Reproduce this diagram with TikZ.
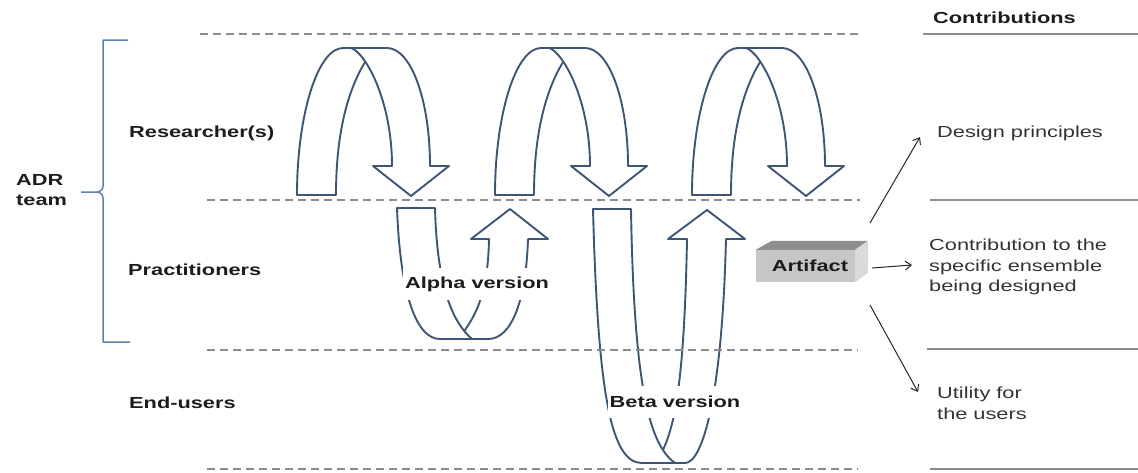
\documentclass[tikz,border=0pt]{standalone}
\usepackage{fontspec}
\setmainfont{Liberation Sans}[FakeStretch=1.36]
\usetikzlibrary{arrows.meta}
\definecolor{band}{HTML}{3F5574}
\definecolor{rule}{HTML}{8C8C8C}
\definecolor{bracket}{HTML}{5B82AD}
\definecolor{ink}{HTML}{1C1C1C}
\definecolor{soft}{HTML}{333333}
\definecolor{boxfront}{HTML}{C6C6C6}
\definecolor{boxtop}{HTML}{8E8E8E}
\definecolor{boxside}{HTML}{DADADA}

% one iteration loop in the researchers' lane: a rising band that bends over
% and comes down as an arrow; #1 is the left edge of the rising leg
\newcommand\loopover[1]{%
  \begin{scope}[xshift=#1]
    \path[bandline] (0,195) .. controls (0,114) and (21,48) .. (46,48)
      -- (60,48) -- (72,56) .. controls (52,85) and (39,130) .. (39,195) -- cycle;
    \path[bandline] (54,48) -- (90,48) .. controls (114,48) and (133,100) .. (133,166)
      -- (152,166) -- (114,196) -- (76,166) -- (95,166)
      .. controls (95,100) and (68,52) .. (54,48) -- cycle;
  \end{scope}}

\begin{document}
\begin{tikzpicture}[x=1pt,y=-1pt,
  bandline/.style={draw=band, line width=1.9pt, fill=white, line join=round},
  lane/.style={draw=rule, line width=1.6pt, dash pattern=on 8pt off 5pt},
  solidrule/.style={draw=rule, line width=1.6pt},
  role/.style={font=\fontsize{16}{20}\selectfont\bfseries, text=ink, anchor=west, align=left, inner sep=0pt},
  result/.style={font=\fontsize{16}{20.5}\selectfont, text=soft, anchor=west, align=left, inner sep=0pt},
  version/.style={font=\fontsize{16}{20}\selectfont\bfseries, text=ink, fill=white, inner sep=2pt, minimum height=32pt},
  link/.style={draw=black!85, line width=1pt, -{Straight Barb[length=6pt,width=9pt]}},
]
\useasboundingbox (0,0) rectangle (1138,472);

% iteration loops among the researchers
\loopover{297}
\loopover{495}
\loopover{692}

% alpha version: down to the practitioners and back up
\path[bandline] (510,209) -- (548,239) -- (528,239)
  .. controls (526,300) and (512,339) .. (488,339) -- (458,339)
  .. controls (478,315) and (488,290) .. (489,239) -- (471,239) -- cycle;
\path[bandline] (397,208) -- (435,208)
  .. controls (437,285) and (452,322) .. (472,339) -- (440,339)
  .. controls (415,339) and (400,290) .. (397,208) -- cycle;

% beta version: down to the end-users and back up
\path[bandline] (707,210) -- (745,239) -- (726,239)
  .. controls (722,400) and (702,463) .. (685,463) -- (655,463)
  .. controls (672,440) and (684,400) .. (687,239) -- (668,239) -- cycle;
\path[bandline] (593,209) -- (631,209)
  .. controls (634,390) and (650,445) .. (675,463) -- (642,463)
  .. controls (612,463) and (598,400) .. (593,209) -- cycle;

% lane separators
\draw[lane] (200,34) -- (858,34);
\draw[lane] (207,200) -- (860,200);
\draw[lane] (207,350) -- (858,350);
\draw[lane] (207,469) -- (858,469);

% contribution column rules
\draw[solidrule] (923,34) -- (1138,34);
\draw[solidrule] (930,200) -- (1138,200);
\draw[solidrule] (927,349) -- (1138,349);
\draw[solidrule] (930,469) -- (1138,469);

% ADR team bracket
\draw[bracket, line width=1.5pt, line join=round]
  (128,40) -- (103,40) -- (103,186) to[out=-90,in=0] (97,192) -- (81,192)
  (97,192) to[out=0,in=90] (103,198) -- (103,342) -- (130,342);

% lane labels
\node[role] (adr) at (16,190) {ADR\\team};
\node[role] (res) at (129,133) {Researcher(s)};
\node[role] (pra) at (128,270) {Practitioners};
\node[role] (end) at (129,403) {End-users};

% version labels
\node[version] (alpha) at (477,284) {Alpha version};
\node[version] (beta) at (675,402) {Beta version};

% artifact box
\node[fill=boxfront, minimum width=99pt, minimum height=32pt, inner sep=0pt,
      font=\fontsize{16}{20}\selectfont\bfseries, text=ink] (art) at (805.5,266) {\hspace*{9pt}Artifact};
\fill[boxtop] (art.north west) -- ++(16,-9) -- ++(96,0) -- (art.north east) -- cycle;
\fill[boxside] (art.north east) -- ++(13,-9) -- ++(0,32) -- (art.south east) -- cycle;

% contributions
\node[role] (contrib) at (933,18) {Contributions};
\node[result] (design) at (937,133) {Design principles};
\node[result] (ensemble) at (929,267) {Contribution to the\\specific ensemble\\being designed};
\node[result] (utility) at (937,403.5) {Utility for\\the users};

\coordinate (s1) at (870,223);
\coordinate (e1) at (920,137);
\coordinate (s2) at (872,268);
\coordinate (e2) at (912,265);
\coordinate (s3) at (870,305);
\coordinate (e3) at (918,392);
\draw[link] (s1) -- (e1);
\draw[link] (s2) -- (e2);
\draw[link] (s3) -- (e3);
\end{tikzpicture}
\end{document}
